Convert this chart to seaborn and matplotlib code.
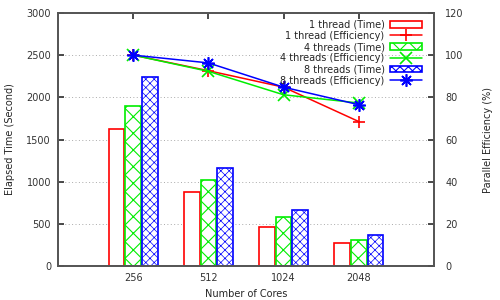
import numpy as np
import pandas as pd
import matplotlib
matplotlib.use("Agg")
import matplotlib.pyplot as plt
import seaborn as sns

cores = ["256", "512", "1024", "2048"]
series = ["1 thread", "4 threads", "8 threads"]
time_1 = [1630, 875, 460, 270]
time_4 = [1900, 1020, 580, 305]
time_8 = [2240, 1160, 660, 365]
eff_1 = [100, 92.6, 84.8, 68.5]
eff_4 = [100, 92.3, 81.2, 77.3]
eff_8 = [100, 96.3, 84.8, 76.5]

colors = ["#ff0000", "#00ee00", "#0000ff"]
hatches = ["", "xx", "xxxx"]
hatch_lw = [0.8, 0.8, 0.5]
markers = ["+", "x", (8, 2, 0)]

sns.set_theme(style="ticks")
plt.rcParams["font.family"] = ["DejaVu Sans"]
plt.rcParams["hatch.linewidth"] = 0.8
fs = 7

df = pd.DataFrame({
    "cores": cores * 3,
    "series": np.repeat(series, len(cores)),
    "time": time_1 + time_4 + time_8,
})

fig = plt.figure(figsize=(5, 3), dpi=100)
ax = fig.add_axes([0.116, 0.113, 0.752, 0.844])

sns.barplot(data=df, x="cores", y="time", hue="series", order=cores,
            hue_order=series, palette=colors, width=0.66, gap=0.06,
            ax=ax, legend=False, zorder=2)

for cont, c, h, hl in zip(ax.containers, colors, hatches, hatch_lw):
    for p in cont:
        p.set_facecolor("white")
        p.set_edgecolor(c)
        p.set_hatch(h)
        p.set_linewidth(1.2)
        if hasattr(p, "set_hatch_linewidth"):
            p.set_hatch_linewidth(hl)

ax.set_xlim(-1, 4)
ax.set_ylim(0, 3000)
ax.set_yticks(range(0, 3001, 500))
ax.yaxis.grid(True, linestyle=(0, (1, 2.5)), color="#aaaaaa", linewidth=0.7)
ax.set_axisbelow(True)
ax.set_xlabel("Number of Cores", fontsize=fs)
ax.set_ylabel("Elapsed Time (Second)", fontsize=fs, labelpad=8)
ax.tick_params(labelsize=fs, direction="in", top=True, length=4, colors="#333333", pad=5)
for s in ax.spines.values():
    s.set_color("#555555")

ax2 = ax.twinx()
pos = np.arange(len(cores))
handles = []
labels = []
for cont, s in zip(ax.containers, series):
    handles.append(cont[0])
    labels.append(f"{s} (Time)")
for s, e, c, m in zip(series, [eff_1, eff_4, eff_8], colors, markers):
    sns.lineplot(x=pos, y=e, ax=ax2, color=c, marker=m, markersize=9,
                 markeredgewidth=1.2, markeredgecolor=c, linewidth=1.1)
    handles.append(ax2.lines[-1])
    labels.append(f"{s} (Efficiency)")

order = [0, 3, 1, 4, 2, 5]
ax2.set_ylim(0, 120)
ax2.set_yticks(range(0, 121, 20))
ax2.set_ylabel("Parallel Efficiency (%)", fontsize=fs, rotation=90, labelpad=14)
ax2.tick_params(labelsize=fs, direction="in", length=4, colors="#333333", pad=8)
for s in ax2.spines.values():
    s.set_color("#555555")
ax2.set_xlim(-1, 4)

leg = ax2.legend([handles[i] for i in order], [labels[i] for i in order],
                 loc="upper right", bbox_to_anchor=(0.985, 1.0), frameon=False,
                 markerfirst=False, fontsize=fs, handlelength=3.2,
                 handleheight=0.7, labelspacing=0.12, handletextpad=0.6,
                 borderaxespad=0.3)

fig.savefig("out.png", dpi=100)
